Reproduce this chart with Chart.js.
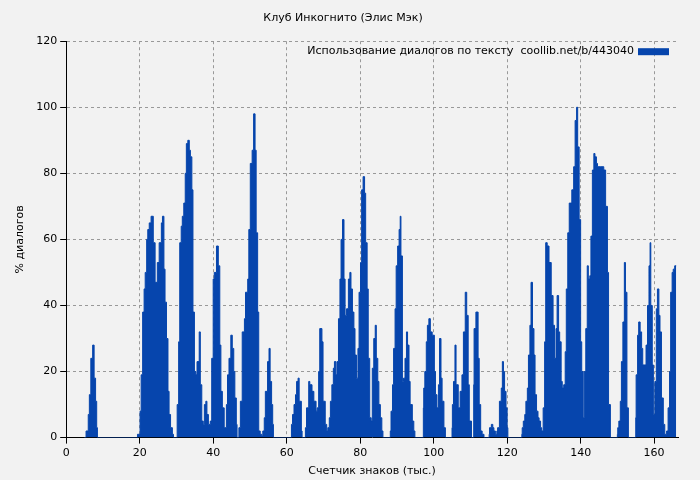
<!DOCTYPE html>
<html>
<head>
<meta charset="utf-8">
<script src="https://cdn.jsdelivr.net/npm/chart.js@4/dist/chart.umd.min.js"></script>
<style>
  body { margin: 0; background: #f2f2f2; }
  #wrap { width: 700px; height: 480px; }
</style>
</head>
<body>
<div id="wrap"><canvas id="c"></canvas></div>
<script>
// characters (thousands)
const xs = [
  4.9, 5.4, 6.0, 6.3, 6.7, 7.2, 7.6, 8.0, 8.3, 8.5,
  19.2, 19.4, 20.1, 20.4, 20.8, 21.2, 21.5, 21.9, 22.2, 22.6, 23.1, 23.7, 24.2, 24.8, 25.3, 25.9, 26.2, 26.6, 26.9, 27.3, 27.7, 28.0, 28.4, 28.9, 29.2,
  30.0, 30.2, 30.6, 30.9, 31.3, 31.6, 32.0, 32.4, 32.7, 33.1, 33.5, 33.8, 34.2, 34.5, 34.9, 35.3, 35.6, 36.2, 36.5, 36.9, 37.3, 37.6, 38.0, 38.3, 38.7, 39.2, 39.6, 40.0, 40.3, 40.9, 41.4, 41.8, 42.1, 42.5, 43.0, 43.6, 43.9, 44.3, 44.8, 45.2, 45.6, 45.9, 46.3, 46.5,
  46.9, 47.0, 47.4, 47.9, 48.5, 48.8, 49.4, 49.7, 50.1, 50.6, 51.0, 51.4, 51.7, 52.1, 52.4, 52.8, 53.2, 53.5, 53.9, 54.2, 54.8, 55.2, 55.5, 55.9, 56.2, 56.4,
  61.0, 61.3, 61.6, 62.0, 62.4, 62.7, 63.1, 63.4, 64.0, 64.2,
  65.0, 65.1, 65.4, 66.0, 66.3, 66.9, 67.4, 68.0, 68.3, 68.7, 69.0, 69.6, 69.9, 70.5, 70.9, 71.2, 71.6, 71.9, 72.3, 72.7, 73.0, 73.4, 73.7, 74.1, 74.5, 74.8, 75.2, 75.6, 75.9, 76.3, 76.8, 77.2, 77.5, 77.9, 78.3, 78.6, 79.0, 79.4, 79.7, 80.1, 80.4, 80.8, 81.2, 81.5, 81.9, 82.2, 82.6, 83.0, 83.3, 83.7, 84.1, 84.4, 84.8, 85.1, 85.5, 85.9, 86.2, 86.3,
  88.2, 88.4, 88.8, 89.1, 89.5, 89.8, 90.2, 90.6, 90.9, 91.1, 91.5, 91.8, 92.2, 92.6, 92.9, 93.3, 93.6, 94.2, 94.6, 94.9, 95.1,
  97.2, 97.3, 97.6, 98.0, 98.3, 98.7, 99.1, 99.6, 100.2, 100.5, 100.9, 101.3, 101.6, 102.0, 102.3, 102.8, 103.2, 103.3,
  105.0, 105.1, 105.4, 105.8, 106.1, 106.7, 107.2, 107.7, 108.1, 108.6, 109.0, 109.4, 109.7, 110.3, 110.5,
  110.9, 111.0, 111.5, 112.1, 112.4, 112.8, 113.2, 113.7, 114.0,
  115.1, 115.2, 115.7, 116.1, 116.4, 116.8, 117.2, 117.4, 117.9, 118.4, 118.7, 119.0, 119.3, 119.7, 120.0, 120.2, 120.4,
  124.0, 124.1, 124.4, 124.8, 125.1, 125.5, 125.8, 126.2, 126.5, 126.9, 127.3, 127.6, 128.0, 128.4, 128.7, 129.1, 129.4, 129.8, 130.2, 130.5, 130.9, 131.4, 132.0, 132.5, 132.9, 133.3, 133.6, 134.0, 134.3, 134.7, 135.0, 135.4, 135.8, 136.1, 136.5, 136.9, 137.2, 137.6, 138.1, 138.5, 138.9, 139.2, 139.6, 140.0, 140.3, 140.7, 141.0, 141.4, 141.8, 142.1, 142.5, 142.8, 143.2, 143.6, 143.9, 144.3, 144.6, 145.0, 145.5, 146.3, 146.8, 147.3, 147.6, 148.1, 148.3,
  150.0, 150.1, 150.4, 150.8, 151.1, 151.5, 151.9, 152.2, 152.6, 153.0, 153.2,
  155.0, 155.1, 155.5, 155.8, 156.2, 156.6, 156.9, 157.3, 157.8, 158.2, 158.6, 158.9, 159.1, 159.5, 159.8, 160.2, 160.6, 160.9, 161.3, 161.6, 162.0, 162.5, 162.9, 163.4, 163.8, 164.2, 164.5, 164.9, 165.2, 165.6, 166.0, 166.3
];
// dialogue share (%)
const ys = [
  0, 2, 7, 13, 24, 28, 18, 11, 3, 0,
  0, 1, 8, 19, 38, 45, 50, 60, 63, 65, 67, 59, 47, 53, 59, 65, 67, 51, 41, 30, 14, 7, 3, 1, 0,
  0, 10, 29, 59, 64, 67, 71, 80, 89, 90, 87, 85, 75, 38, 20, 19, 23, 32, 16, 5, 4, 10, 11, 7, 4, 5, 24, 48, 50, 58, 52, 28, 14, 9, 3, 10, 19, 24, 31, 27, 20, 12, 4, 0,
  0, 3, 11, 32, 36, 44, 48, 63, 83, 87, 98, 87, 62, 38, 2, 1, 0.5, 2, 6, 14, 23, 27, 17, 10, 4, 0,
  0, 4, 7, 10, 13, 17, 18, 11, 2, 0,
  0, 3, 9, 17, 16, 14, 11, 8, 9, 20, 33, 29, 11, 4, 2, 3, 6, 11, 16, 21, 23, 19, 23, 36, 48, 60, 66, 48, 37, 39, 48, 50, 45, 38, 33, 25, 18, 27, 44, 53, 75, 79, 74, 59, 45, 24, 6, 5, 21, 30, 34, 24, 17, 10, 6, 2, 0,
  0, 2, 8, 16, 27, 39, 52, 58, 63, 67, 55, 17, 18, 24, 32, 28, 17, 10, 5, 2, 0,
  0, 9, 15, 20, 29, 34, 36, 32, 31, 20, 13, 9, 16, 30, 18, 11, 3, 0,
  0, 3, 10, 17, 28, 16, 9, 14, 19, 32, 44, 37, 16, 5, 0,
  0, 16, 33, 38, 24, 10, 2, 1, 0,
  0, 1, 3, 4, 3, 2, 1, 2, 3, 11, 15, 23, 20, 14, 9, 3, 0,
  0, 1, 3, 5, 7, 11, 15, 25, 34, 47, 33, 25, 13, 8, 6, 5, 3, 2, 9, 29, 59, 58, 53, 43, 34, 24, 33, 43, 32, 29, 17, 15, 16, 26, 45, 62, 71, 71, 75, 82, 96, 100, 88, 66, 29, 20, 6, 20, 33, 52, 48, 49, 61, 81, 86, 85, 83, 82, 82, 82, 81, 70, 50, 10, 0,
  0, 1, 3, 5, 11, 23, 35, 53, 44, 9, 0,
  0, 6, 19, 31, 35, 32, 27, 22, 22, 28, 40, 52, 59, 40, 22, 7, 17, 39, 45, 37, 32, 12, 4, 1, 2, 9, 20, 44, 50, 51, 52, 52
];
const xTicks = [0, 20, 40, 60, 80, 100, 120, 140, 160];
const yTicks = [0, 20, 40, 60, 80, 100, 120];
const seriesLabel = 'Использование диалогов по тексту  coollib.net/b/443040';

const font = { family: 'DejaVu Sans', size: 11, weight: 'normal' };
Chart.defaults.color = '#000';

const grid = { color: '#999', tickColor: '#000', tickLength: 6 };

const bg = {
  id: 'bg',
  beforeDraw(chart) {
    const c = chart.ctx;
    c.save();
    c.fillStyle = '#f2f2f2';
    c.fillRect(0, 0, chart.width, chart.height);
    c.restore();
  }
};

// legend drawn inside the plot, top right, text then colour box
const insideLegend = {
  id: 'insideLegend',
  afterDraw(chart) {
    const c = chart.ctx, a = chart.chartArea;
    c.save();
    c.font = '11px "DejaVu Sans"';
    c.fillStyle = '#000';
    c.textAlign = 'right';
    c.textBaseline = 'middle';
    const y = a.top + 10;
    c.fillText(seriesLabel, a.right - 44, y);
    c.fillStyle = '#0645ad';
    c.fillRect(a.right - 40, y - 3, 31, 7);
    c.restore();
  }
};

new Chart(document.getElementById('c'), {
  type: 'line',
  data: {
    datasets: [{
      label: seriesLabel,
      data: xs.map((x, i) => ({ x: x, y: ys[i] })),
      borderColor: '#0645ad',
      backgroundColor: '#0645ad',
      borderWidth: 1,
      fill: 'origin',
      pointRadius: 0,
      stepped: true
    }]
  },
  options: {
    responsive: true,
    maintainAspectRatio: false,
    animation: false,
    layout: { padding: { left: 8, right: 22, top: 0, bottom: 0 } },
    plugins: {
      title: {
        display: true,
        text: 'Клуб Инкогнито (Элис Мэк)',
        font: font,
        padding: { top: 12, bottom: 16 }
      },
      legend: { display: false },
      tooltip: { enabled: false }
    },
    scales: {
      x: {
        type: 'linear',
        min: 0,
        max: 166.5,
        afterBuildTicks(axis) { axis.ticks = xTicks.map(v => ({ value: v })); },
        ticks: { font: font, autoSkip: false },
        grid: grid,
        border: { color: '#000', width: 1, dash: [3, 3] },
        title: { display: true, text: 'Счетчик знаков (тыс.)', font: font, padding: 2 }
      },
      y: {
        min: 0,
        max: 120,
        afterBuildTicks(axis) { axis.ticks = yTicks.map(v => ({ value: v })); },
        ticks: { font: font },
        grid: grid,
        border: { color: '#000', width: 1, dash: [3, 3] },
        title: { display: true, text: '% диалогов', font: font, padding: 6 }
      }
    }
  },
  plugins: [bg, insideLegend]
});
</script>
</body>
</html>
